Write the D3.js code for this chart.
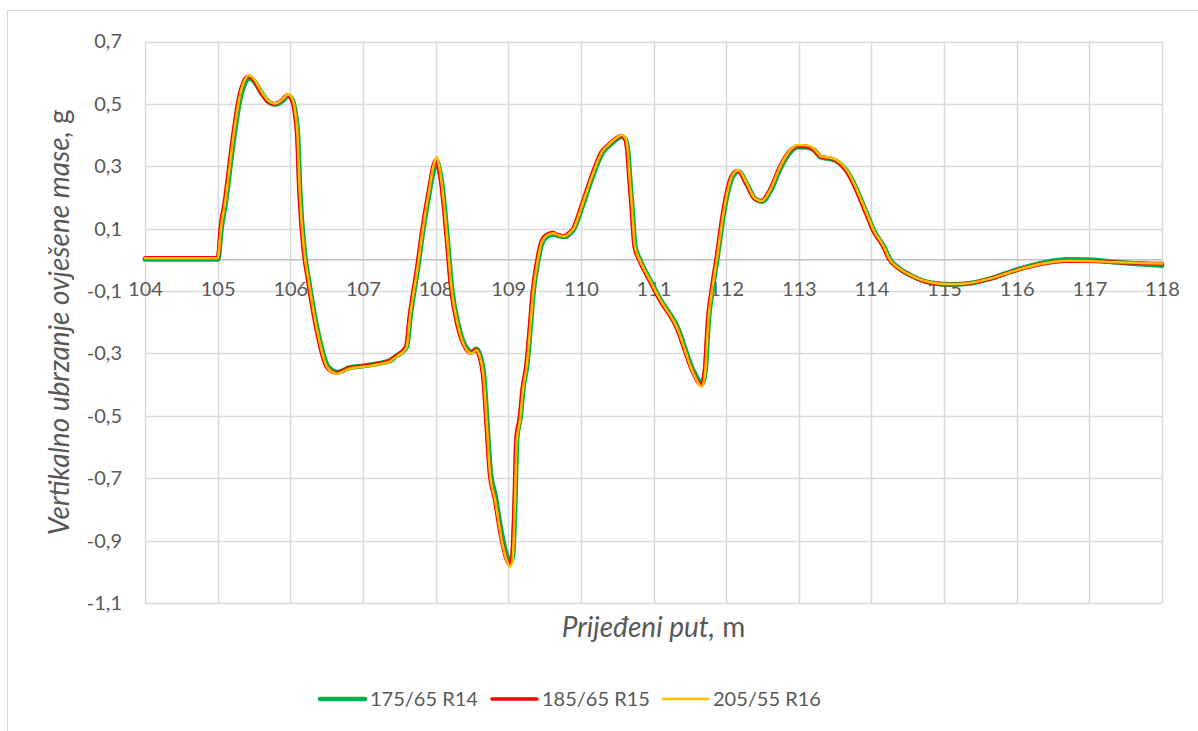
<!DOCTYPE html>
<html>
<head>
<meta charset="utf-8">
<script src="https://cdn.jsdelivr.net/npm/d3@7/dist/d3.min.js"></script>
<style>
  html, body { margin: 0; padding: 0; background: #fff; }
  svg { display: block; font-family: Lato, "Open Sans", sans-serif; }
</style>
</head>
<body>
<svg id="chart" width="1198" height="731"></svg>
<script>
// Axis ticks
const xTickValues = [104, 105, 106, 107, 108, 109, 110, 111, 112, 113, 114, 115, 116, 117, 118];
const yTickValues = [0.7, 0.5, 0.3, 0.1, -0.1, -0.3, -0.5, -0.7, -0.9, -1.1];

// Series names and colours
const seriesNames = ["175/65 R14", "185/65 R15", "205/55 R16"];
const seriesColors = ["#00b050", "#ff0000", "#ffc000"];

// Vertical acceleration of the sprung mass [travelled distance m, acceleration g]
const tyre175R14 = [
  [104.0,0.002],[105.004,0.002],[105.054,0.105],[105.104,0.175],[105.224,0.39],[105.304,0.51],[105.364,0.56],[105.434,0.582],
  [105.504,0.572],[105.604,0.535],[105.704,0.506],[105.794,0.498],[105.884,0.508],[105.974,0.525],[106.034,0.51],[106.074,0.466],
  [106.104,0.40],[106.134,0.22],[106.194,0.031],[106.254,-0.065],[106.364,-0.213],[106.504,-0.336],[106.584,-0.355],[106.644,-0.36],
  [106.824,-0.345],[107.004,-0.34],[107.194,-0.333],[107.374,-0.323],[107.444,-0.311],[107.604,-0.278],[107.654,-0.18],[107.684,-0.13],
  [107.744,-0.044],[107.834,0.104],[107.924,0.228],[107.984,0.298],[108.019,0.315],[108.054,0.29],[108.089,0.243],[108.157,0.085],
  [108.226,-0.095],[108.317,-0.212],[108.434,-0.285],[108.504,-0.296],[108.561,-0.286],[108.614,-0.307],[108.669,-0.38],[108.709,-0.515],
  [108.754,-0.672],[108.824,-0.757],[108.914,-0.882],[108.984,-0.95],[109.029,-0.968],[109.064,-0.946],[109.094,-0.79],[109.121,-0.572],
  [109.166,-0.508],[109.212,-0.403],[109.258,-0.34],[109.304,-0.223],[109.35,-0.096],[109.396,-0.022],[109.464,0.052],[109.534,0.075],
  [109.624,0.082],[109.704,0.076],[109.784,0.074],[109.844,0.083],[109.904,0.098],[110.014,0.167],[110.154,0.262],[110.294,0.342],
  [110.404,0.369],[110.504,0.389],[110.564,0.395],[110.614,0.387],[110.649,0.347],[110.674,0.268],[110.704,0.178],[110.749,0.042],
  [110.814,0.0],[110.954,-0.065],[111.094,-0.127],[111.324,-0.213],[111.554,-0.358],[111.669,-0.396],[111.714,-0.356],[111.744,-0.248],
  [111.759,-0.192],[111.804,-0.107],[111.874,0.0],[111.989,0.179],[112.081,0.262],[112.172,0.283],[112.287,0.242],[112.401,0.195],
  [112.494,0.187],[112.608,0.22],[112.746,0.293],[112.884,0.346],[112.998,0.362],[113.104,0.361],[113.204,0.353],[113.254,0.341],
  [113.304,0.329],[113.48,0.321],[113.664,0.284],[113.939,0.147],[114.034,0.093],[114.168,0.044],[114.26,0.0],[114.374,-0.026],
  [114.535,-0.049],[114.811,-0.073],[115.084,-0.079],[115.361,-0.075],[115.637,-0.06],[116.004,-0.031],[116.37,-0.009],[116.692,0.001],
  [117.004,0.0],[117.381,-0.008],[118.0,-0.018]
];

const tyre185R15 = [
  [104.0,0.006],[105.0,0.006],[105.04,0.11],[105.09,0.18],[105.21,0.40],[105.29,0.52],[105.35,0.568],[105.42,0.588],
  [105.49,0.578],[105.59,0.538],[105.69,0.508],[105.78,0.5],[105.87,0.51],[105.96,0.528],[106.02,0.512],[106.06,0.47],
  [106.09,0.40],[106.12,0.22],[106.18,0.031],[106.24,-0.065],[106.35,-0.215],[106.49,-0.34],[106.57,-0.358],[106.63,-0.362],
  [106.81,-0.346],[106.99,-0.341],[107.18,-0.334],[107.36,-0.324],[107.43,-0.312],[107.59,-0.279],[107.64,-0.18],[107.67,-0.13],
  [107.73,-0.044],[107.82,0.106],[107.91,0.232],[107.97,0.305],[108.005,0.322],[108.04,0.295],[108.075,0.245],[108.143,0.085],
  [108.212,-0.097],[108.303,-0.215],[108.42,-0.287],[108.49,-0.298],[108.547,-0.287],[108.6,-0.309],[108.655,-0.384],[108.695,-0.52],
  [108.74,-0.68],[108.81,-0.765],[108.9,-0.89],[108.97,-0.958],[109.015,-0.976],[109.05,-0.952],[109.08,-0.795],[109.107,-0.575],
  [109.152,-0.51],[109.198,-0.405],[109.244,-0.341],[109.29,-0.224],[109.336,-0.096],[109.382,-0.021],[109.45,0.056],[109.52,0.08],
  [109.61,0.087],[109.69,0.08],[109.77,0.077],[109.83,0.086],[109.89,0.10],[110.0,0.17],[110.14,0.266],[110.28,0.346],
  [110.39,0.372],[110.49,0.391],[110.55,0.398],[110.6,0.39],[110.635,0.35],[110.66,0.27],[110.69,0.18],[110.735,0.042],
  [110.8,0.0],[110.94,-0.065],[111.08,-0.127],[111.31,-0.215],[111.54,-0.36],[111.655,-0.401],[111.7,-0.36],[111.73,-0.25],
  [111.745,-0.193],[111.79,-0.108],[111.86,0.0],[111.975,0.181],[112.067,0.266],[112.158,0.286],[112.273,0.244],[112.387,0.197],
  [112.48,0.189],[112.594,0.222],[112.732,0.296],[112.87,0.349],[112.984,0.365],[113.09,0.364],[113.19,0.356],[113.24,0.343],
  [113.29,0.332],[113.466,0.323],[113.65,0.286],[113.925,0.148],[114.02,0.094],[114.154,0.045],[114.246,0.0],[114.36,-0.025],
  [114.521,-0.048],[114.797,-0.073],[115.07,-0.079],[115.347,-0.075],[115.623,-0.061],[115.99,-0.034],[116.356,-0.013],[116.678,-0.004],
  [116.99,-0.004],[117.367,-0.008],[118.0,-0.012]
];

const tyre205R16 = [
  [104.0,0.005],[105.0,0.005],[105.05,0.11],[105.1,0.18],[105.22,0.40],[105.3,0.52],[105.36,0.57],[105.43,0.592],
  [105.5,0.58],[105.6,0.54],[105.7,0.51],[105.79,0.501],[105.88,0.512],[105.97,0.531],[106.03,0.515],[106.07,0.47],
  [106.1,0.40],[106.13,0.22],[106.19,0.031],[106.25,-0.065],[106.36,-0.215],[106.5,-0.34],[106.58,-0.36],[106.64,-0.365],
  [106.82,-0.348],[107.0,-0.343],[107.19,-0.336],[107.37,-0.326],[107.44,-0.314],[107.6,-0.281],[107.65,-0.18],[107.68,-0.13],
  [107.74,-0.044],[107.83,0.106],[107.92,0.234],[107.98,0.31],[108.015,0.33],[108.05,0.30],[108.085,0.245],[108.153,0.085],
  [108.222,-0.097],[108.313,-0.215],[108.43,-0.289],[108.5,-0.30],[108.557,-0.289],[108.61,-0.311],[108.665,-0.386],[108.705,-0.524],
  [108.75,-0.685],[108.82,-0.77],[108.91,-0.898],[108.98,-0.965],[109.025,-0.984],[109.06,-0.96],[109.09,-0.80],[109.117,-0.58],
  [109.162,-0.514],[109.208,-0.407],[109.254,-0.343],[109.3,-0.225],[109.346,-0.097],[109.392,-0.022],[109.46,0.055],[109.53,0.078],
  [109.62,0.085],[109.7,0.078],[109.78,0.076],[109.84,0.085],[109.9,0.10],[110.01,0.17],[110.15,0.266],[110.29,0.346],
  [110.4,0.373],[110.5,0.393],[110.56,0.4],[110.61,0.392],[110.645,0.35],[110.67,0.27],[110.7,0.18],[110.745,0.042],
  [110.81,0.0],[110.95,-0.065],[111.09,-0.127],[111.32,-0.215],[111.55,-0.364],[111.665,-0.407],[111.71,-0.364],[111.74,-0.25],
  [111.755,-0.193],[111.8,-0.108],[111.87,0.0],[111.985,0.181],[112.077,0.266],[112.168,0.288],[112.283,0.245],[112.397,0.197],
  [112.49,0.189],[112.604,0.223],[112.742,0.298],[112.88,0.352],[112.994,0.368],[113.1,0.367],[113.2,0.358],[113.25,0.345],
  [113.3,0.333],[113.476,0.325],[113.66,0.288],[113.935,0.149],[114.03,0.095],[114.164,0.045],[114.256,0.0],[114.37,-0.025],
  [114.531,-0.048],[114.807,-0.072],[115.08,-0.078],[115.357,-0.074],[115.633,-0.06],[116.0,-0.033],[116.366,-0.012],[116.688,-0.003],
  [117.0,-0.004],[117.377,-0.008],[118.0,-0.012]
];

const seriesData = [tyre175R14, tyre185R15, tyre205R16];
const seriesWidths = [5, 3.75, 2.5];

const svg = d3.select("#chart");
const textColor = "#595959";

// Outer chart frame
svg.append("rect")
  .attr("x", 7.5).attr("y", 10.5)
  .attr("width", 1200).attr("height", 730)
  .attr("fill", "none").attr("stroke", "#d9d9d9").attr("stroke-width", 1);

const plot = { left: 145, right: 1162, top: 41.5, bottom: 603 };

const x = d3.scaleLinear().domain([104, 118]).range([plot.left, plot.right]);
const y = d3.scaleLinear().domain([-1.1, 0.7]).range([plot.bottom, plot.top]);

const fmt = d => d.toFixed(1).replace(".", ",");

// Grid lines
const grid = svg.append("g");
grid.selectAll("line.h").data(yTickValues).join("line")
  .attr("x1", plot.left).attr("x2", plot.right)
  .attr("y1", d => Math.round(y(d)) + 0.5).attr("y2", d => Math.round(y(d)) + 0.5)
  .attr("stroke", "#d9d9d9").attr("stroke-width", 1.5);
grid.selectAll("line.v").data(xTickValues).join("line")
  .attr("x1", d => Math.round(x(d)) + 0.5).attr("x2", d => Math.round(x(d)) + 0.5)
  .attr("y1", plot.top).attr("y2", plot.bottom)
  .attr("stroke", "#d9d9d9").attr("stroke-width", 1.5);

// Zero line (horizontal axis)
svg.append("line")
  .attr("x1", plot.left).attr("x2", plot.right)
  .attr("y1", y(0)).attr("y2", y(0))
  .attr("stroke", "#bfbfbf").attr("stroke-width", 1.5);

// Y axis labels
const yAxis = svg.append("g")
  .attr("transform", `translate(${plot.left},0)`)
  .call(d3.axisLeft(y).tickValues(yTickValues).tickFormat(fmt).tickSize(0).tickPadding(23));
yAxis.select(".domain").remove();
yAxis.selectAll("text").attr("fill", textColor).style("font-size", "20px").style("font-family", "Lato, sans-serif");

// X axis labels, placed along the zero line
const xAxis = svg.append("g")
  .attr("transform", `translate(0,${y(0)})`)
  .call(d3.axisBottom(x).tickValues(xTickValues).tickFormat(d3.format("d")).tickSize(0).tickPadding(22));
xAxis.select(".domain").remove();
xAxis.selectAll("text").attr("fill", textColor).style("font-size", "20px").style("font-family", "Lato, sans-serif");

// Series lines
const line = d3.line()
  .x(d => x(d[0]))
  .y(d => y(d[1]))
  .curve(d3.curveMonotoneX);

svg.append("g").selectAll("path").data(seriesData).join("path")
  .attr("d", line)
  .attr("fill", "none")
  .attr("stroke", (d, i) => seriesColors[i])
  .attr("stroke-width", (d, i) => seriesWidths[i])
  .attr("stroke-linejoin", "round")
  .attr("stroke-linecap", "round");

// Axis titles
const yTitle = svg.append("text")
  .attr("transform", `translate(69,${(plot.top + plot.bottom) / 2}) rotate(-90)`)
  .attr("text-anchor", "middle")
  .attr("fill", textColor)
  .style("font-size", "28px");
yTitle.append("tspan").style("font-style", "italic").text("Vertikalno ubrzanje ovješene mase,");
yTitle.append("tspan").text(" g");

const xTitle = svg.append("text")
  .attr("x", (plot.left + plot.right) / 2)
  .attr("y", 637)
  .attr("text-anchor", "middle")
  .attr("fill", textColor)
  .style("font-size", "28px");
xTitle.append("tspan").style("font-style", "italic").text("Prijeđeni put,");
xTitle.append("tspan").text(" m");

// Legend
const legendX = [320, 492, 663];
const legendWidths = [4.5, 3.5, 2.5];
const legend = svg.append("g");
seriesNames.forEach((name, i) => {
  legend.append("line")
    .attr("x1", legendX[i]).attr("x2", legendX[i] + 45)
    .attr("y1", 699).attr("y2", 699)
    .attr("stroke", seriesColors[i])
    .attr("stroke-width", legendWidths[i])
    .attr("stroke-linecap", "round");
  legend.append("text")
    .attr("x", legendX[i] + 50)
    .attr("y", 699)
    .attr("dy", "0.35em")
    .attr("fill", textColor)
    .style("font-size", "20px")
    .text(name);
});
</script>
</body>
</html>
